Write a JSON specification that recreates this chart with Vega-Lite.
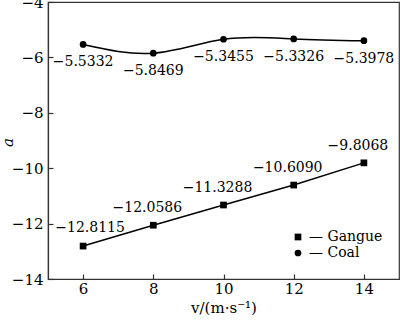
{
  "$schema": "https://vega.github.io/schema/vega-lite/v6.json",
  "width": 351,
  "height": 277,
  "autosize": {"type": "none"},
  "padding": {"left": 48, "top": 2, "right": 1, "bottom": 43},
  "background": "white",
  "config": {
    "font": "DejaVu Serif",
    "view": {"stroke": "#333", "strokeWidth": 1.2},
    "text": {"font": "DejaVu Serif"},
    "axis": {
      "grid": false,
      "domainColor": "#333",
      "domainWidth": 1.2,
      "tickColor": "#333",
      "tickWidth": 1.2,
      "tickSize": -5,
      "labelFontSize": 15,
      "labelColor": "black",
      "labelFont": "DejaVu Serif",
      "titleFont": "DejaVu Serif",
      "titleFontSize": 15,
      "titleFontWeight": "normal",
      "titleColor": "black"
    },
    "legend": {"labelFont": "DejaVu Serif"}
  },
  "data": {
    "values": [
      {"v": 6, "a": -12.8115, "s": "Gangue", "lab": "−12.8115"},
      {"v": 8, "a": -12.0586, "s": "Gangue", "lab": "−12.0586"},
      {"v": 10, "a": -11.3288, "s": "Gangue", "lab": "−11.3288"},
      {"v": 12, "a": -10.609, "s": "Gangue", "lab": "−10.6090"},
      {"v": 14, "a": -9.8068, "s": "Gangue", "lab": "−9.8068"},
      {"v": 6, "a": -5.5332, "s": "Coal", "lab": "−5.5332"},
      {"v": 8, "a": -5.8469, "s": "Coal", "lab": "−5.8469"},
      {"v": 10, "a": -5.3455, "s": "Coal", "lab": "−5.3455"},
      {"v": 12, "a": -5.3326, "s": "Coal", "lab": "−5.3326"},
      {"v": 14, "a": -5.3978, "s": "Coal", "lab": "−5.3978"}
    ]
  },
  "encoding": {
    "x": {
      "field": "v",
      "type": "quantitative",
      "scale": {"domain": [5, 15], "nice": false},
      "axis": {
        "values": [6, 8, 10, 12, 14],
        "title": "v/(m·s⁻¹)",
        "labelPadding": 7,
        "titlePadding": 4
      }
    },
    "y": {
      "field": "a",
      "type": "quantitative",
      "scale": {"domain": [-14, -4], "nice": false},
      "axis": {
        "values": [-14, -12, -10, -8, -6, -4],
        "title": "a",
        "titleFontStyle": "italic",
        "labelPadding": 10,
        "titleX": -33,
        "titleY": 140
      }
    }
  },
  "layer": [
    {
      "transform": [{"filter": "datum.s === 'Coal'"}],
      "mark": {"type": "line", "interpolate": "natural", "color": "black", "strokeWidth": 1.5}
    },
    {
      "transform": [{"filter": "datum.s === 'Gangue'"}],
      "mark": {"type": "line", "color": "black", "strokeWidth": 1.5}
    },
    {
      "mark": {"type": "point", "filled": true, "color": "black", "opacity": 1, "size": 45},
      "encoding": {
        "shape": {
          "field": "s",
          "type": "nominal",
          "scale": {"domain": ["Gangue", "Coal"], "range": ["square", "circle"]},
          "legend": {
            "title": null,
            "orient": "none",
            "legendX": 243,
            "legendY": 228,
            "labelFontSize": 14,
            "labelColor": "black",
            "symbolFillColor": "black",
            "symbolStrokeColor": "black",
            "symbolSize": 45,
            "rowPadding": 2,
            "labelOffset": 4,
            "labelExpr": "'— ' + datum.label"
          }
        }
      }
    },
    {
      "transform": [{"filter": "datum.s === 'Coal'"}],
      "mark": {"type": "text", "fontSize": 14, "dy": 18, "color": "black"},
      "encoding": {"text": {"field": "lab"}}
    },
    {
      "transform": [{"filter": "datum.s === 'Gangue' && datum.v > 6"}],
      "mark": {"type": "text", "fontSize": 14, "dy": -17, "dx": -6, "color": "black"},
      "encoding": {"text": {"field": "lab"}}
    },
    {
      "transform": [{"filter": "datum.s === 'Gangue' && datum.v === 6"}],
      "mark": {"type": "text", "fontSize": 14, "dy": -18, "dx": 7, "color": "black"},
      "encoding": {"text": {"field": "lab"}}
    }
  ]
}
